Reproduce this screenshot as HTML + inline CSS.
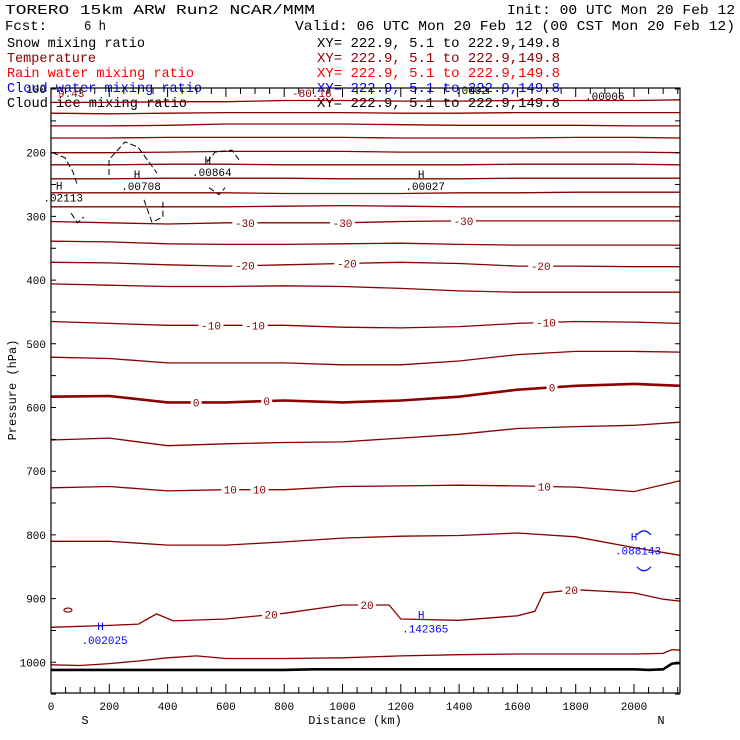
<!DOCTYPE html>
<html><head><meta charset="utf-8"><style>
html,body{margin:0;padding:0;background:#fff;}
svg{display:block;font-family:"Liberation Mono","DejaVu Sans Mono",monospace;}
</style></head><body>
<svg id="chart" width="740" height="740" viewBox="0 0 740 740" xmlns="http://www.w3.org/2000/svg">
<g font-size="14">
<text x="5" y="14" textLength="310" lengthAdjust="spacingAndGlyphs">TORERO  15km ARW   Run2    NCAR/MMM</text>
<text x="507" y="14" textLength="228" lengthAdjust="spacingAndGlyphs">Init: 00 UTC Mon 20 Feb 12</text>
<text x="5" y="30" textLength="42" lengthAdjust="spacingAndGlyphs">Fcst:</text>
<text x="84" y="30" textLength="22" lengthAdjust="spacingAndGlyphs">6 h</text>
<text x="295" y="30" textLength="440" lengthAdjust="spacingAndGlyphs">Valid: 06 UTC Mon 20 Feb 12 (00 CST Mon 20 Feb 12)</text>
<text x="7" y="47" textLength="138" lengthAdjust="spacingAndGlyphs" fill="#000">Snow mixing ratio</text>
<text x="317" y="47" textLength="243" lengthAdjust="spacingAndGlyphs" fill="#000">XY= 222.9,  5.1 to 222.9,149.8</text>
<text x="7" y="62" textLength="89" lengthAdjust="spacingAndGlyphs" fill="#8b0000">Temperature</text>
<text x="317" y="62" textLength="243" lengthAdjust="spacingAndGlyphs" fill="#8b0000">XY= 222.9,  5.1 to 222.9,149.8</text>
<text x="7" y="77" textLength="187" lengthAdjust="spacingAndGlyphs" fill="#ff0000">Rain water mixing ratio</text>
<text x="317" y="77" textLength="243" lengthAdjust="spacingAndGlyphs" fill="#ff0000">XY= 222.9,  5.1 to 222.9,149.8</text>
<text x="7" y="92" textLength="195" lengthAdjust="spacingAndGlyphs" fill="#0000ff">Cloud water mixing ratio</text>
<text x="317" y="92" textLength="243" lengthAdjust="spacingAndGlyphs" fill="#0000ff">XY= 222.9,  5.1 to 222.9,149.8</text>
<text x="7" y="107" textLength="180" lengthAdjust="spacingAndGlyphs" fill="#000">Cloud ice mixing ratio</text>
<text x="317" y="107" textLength="243" lengthAdjust="spacingAndGlyphs" fill="#000">XY= 222.9,  5.1 to 222.9,149.8</text>
</g>
<g id="plot"></g>
<text x="16" y="390" font-size="12" text-anchor="middle" transform="rotate(-90 16 390)">Pressure (hPa)</text>
<text x="355" y="724" font-size="12" text-anchor="middle">Distance (km)</text>
<text x="85" y="724" font-size="12" text-anchor="middle">S</text>
<text x="661" y="724" font-size="12" text-anchor="middle">N</text>
</svg>
<script>
// ---- data ----
const dist = [0,200,400,600,800,1000,1200,1400,1600,1800,2000,2158];
const levels = ["t1","t2","t3","t4","t5","t6","t7","t8","t9","m30","t11","m20","t13","m10","t15","zero","t17","p10","t19"];
const t1  = [121,121,120,120,118,118,119,119,118,118,118,117];
const t2  = [138,139,138,137,137,137,138,138,137,137,137,137];
const t3  = [158,158,157,155,155,155,156,157,157,157,158,158];
const t4  = [177,177,176,176,176,176,177,177,177,176,176,177];
const t5  = [200,200,199,198,198,198,199,199,199,199,199,200];
const t6  = [219,219,218,218,219,219,219,219,218,218,218,219];
const t7  = [241,241,240,240,240,241,241,241,240,240,240,240];
const t8  = [263,263,263,263,264,264,264,263,263,262,262,262];
const t9  = [285,285,285,285,284,283,284,285,285,285,285,285];
const m30 = [308,310,312,310,310,310,308,307,307,307,307,307];
const t11 = [339,340,343,344,344,343,342,344,345,345,345,345];
const m20 = [372,373,376,378,376,374,372,374,378,378,379,379];
const t13 = [406,408,410,410,409,410,413,417,419,419,419,419];
const m10 = [465,468,471,471,471,474,475,473,468,465,466,468];
const t15 = [521,523,530,530,530,533,533,527,517,512,512,513];
const zero = [583,582,592,592,589,592,589,583,572,566,563,566];
const t17 = [651,648,660,657,655,654,648,642,633,630,628,623];
const p10 = [726,724,731,729,729,724,723,722,723,725,732,715];
const t19 = [810,810,816,816,811,805,802,801,797,803,820,832];
const t21Dist = [0,100,200,300,400,500,600,800,1000,1200,1400,1600,1800,2000,2100,2130,2158];
const t21 = [1004,1005,1002,998,993,990,994,994,993,990,988,987,987,987,986,980,981];
const groundDist = [0,800,900,1200,1600,2000,2050,2100,2130,2158];
const ground = [1012,1012,1011,1011,1011,1011,1012,1011,1002,1001];
const p20Dist = [0,200,300,362,420,600,800,1000,1160,1200,1400,1600,1660,1690,1800,2000,2100,2158];
const p20 = [945,942,940,924,935,932,923,910,910,932,934,927,920,891,886,891,901,904];
// contour labels: [series, text, distance]
const labelSeries = ["m30","m30","m30","m20","m20","m20","m10","m10","m10","zero","zero","zero","p10","p10","p10","p20","p20","p20"];
const labelText = ["-30","-30","-30","-20","-20","-20","-10","-10","-10","0","0","0","10","10","10","20","20","20"];
const labelDist = [665,1000,1415,665,1015,1680,549,700,1698,498,740,1719,615,715,1692,755,1084,1785];
// snow mixing ratio contours (distance, pressure)
const snowD = [[5,48,75,91],[69,91,113],[199,199,254,298,364],[319,346,384,384],[535,563,621,645],[542,576,597]];
const snowP = [[200,208,230,251],[295,310,301],[235,211,183,191,232],[274,309,301,277],[215,199,196,211],[255,266,255]];
const snowMaxD = [28,295,538,1270];
const snowMaxP = [258,240,218,240];
const snowMaxV = [".02113",".00708",".00864",".00027"];
const cwMaxD = [170,1270,2000];
const cwMaxP = [949,931,809];
const cwMaxV = [".002025",".142365",".088143"];
const yTicks = [100,200,300,400,500,600,700,800,900,1000];
const xTicks = [0,200,400,600,800,1000,1200,1400,1600,1800,2000];

// ---- axes ----
const X0=51, X1=680, Y0=88, Y1=693;
const xs = d => X0 + d*0.2915;
const ys = p => 89 + (p-100)*0.637;
const NS="http://www.w3.org/2000/svg";
const plot=document.getElementById('plot');
function mk(tag, attrs, parent){const e=document.createElementNS(NS,tag);for(const k in attrs)e.setAttribute(k,attrs[k]);(parent||plot).appendChild(e);return e;}
function interp(ds,ps,d){for(let i=0;i<ds.length-1;i++){if(d>=ds[i]&&d<=ds[i+1]){const t=(d-ds[i])/(ds[i+1]-ds[i]);return ps[i]+t*(ps[i+1]-ps[i]);}}return ps[ps.length-1];}
function pathOf(ds,ps){return ds.map((d,i)=>(i?'L':'M')+xs(d).toFixed(1)+','+ys(ps[i]).toFixed(1)).join(' ');}
const series={t1,t2,t3,t4,t5,t6,t7,t8,t9,m30,t11,m20,t13,m10,t15,zero,t17,p10,t19};

levels.forEach(k=>{
  const el=mk('path',{d:pathOf(dist,series[k]),fill:'none',stroke:'#8b0000','stroke-width':k==='zero'?2.6:1.3});
  
  
});
const e21=mk('path',{d:pathOf(t21Dist,t21),fill:'none',stroke:'#8b0000','stroke-width':1.3});


const e20=mk('path',{d:pathOf(p20Dist,p20),fill:'none',stroke:'#8b0000','stroke-width':1.3});


const eg=mk('path',{d:pathOf(groundDist,ground),fill:'none',stroke:'#000','stroke-width':2.6});


const el0=mk('ellipse',{cx:xs(58),cy:ys(918),rx:4,ry:2,fill:'none',stroke:'#8b0000','stroke-width':1.2});



labelSeries.forEach((k,i)=>{
  const d=labelDist[i];
  const p = k==='p20'?interp(p20Dist,p20,d):interp(dist,series[k],d);
  const w=labelText[i].length*7+4;
  const r=mk('rect',{x:xs(d)-w/2,y:ys(p)-6,width:w,height:12,fill:'#fff'});
  
  
  const t=mk('text',{x:xs(d),y:ys(p)+4,'font-size':11,'text-anchor':'middle',fill:'#8b0000'});
  t.textContent=labelText[i];
  
  
});

snowD.forEach((ds,i)=>{
  const el=mk('path',{d:pathOf(ds,snowP[i]),fill:'none',stroke:'#000','stroke-width':1,'stroke-dasharray':'6,3'});
  
  
});
snowMaxD.forEach((d,i)=>{
  const h=mk('text',{x:xs(d),y:ys(snowMaxP[i]),'font-size':11,'text-anchor':'middle'});h.textContent='H';
  
  
  const v=mk('text',{x:xs(d)+4,y:ys(snowMaxP[i])+12,'font-size':11,'text-anchor':'middle'});v.textContent=snowMaxV[i];
  
  
});
cwMaxD.forEach((d,i)=>{
  const h=mk('text',{x:xs(d),y:ys(cwMaxP[i]),'font-size':11,'text-anchor':'middle',fill:'#0000ff'});h.textContent='H';
  
  
  const v=mk('text',{x:xs(d)+4,y:ys(cwMaxP[i])+14,'font-size':11,'text-anchor':'middle',fill:'#0000ff'});v.textContent=cwMaxV[i];
  
  
});
const cw=mk('path',{d:'M'+(xs(2010)).toFixed(1)+','+(ys(800))+' q7,-8 14,0 M'+xs(2010).toFixed(1)+','+(ys(850))+' q7,8 14,0',fill:'none',stroke:'#0000ff','stroke-width':1.2});



// top clutter labels
[["9.43",58,97,'#8b0000'],["-80.16",292,97,'#8b0000'],[".0002",455,94,'#000'],[".00006",585,100,'#000']].forEach(a=>{
  const t=mk('text',{x:a[1],y:a[2],'font-size':11,fill:a[3]});t.textContent=a[0];
  
  
});

// frame
const fr=mk('rect',{x:X0,y:Y0,width:X1-X0,height:Y1-Y0,fill:'none',stroke:'#000','stroke-width':1.2});


for(let p=100;p<=1050;p+=50){
  const y=ys(p);
  const tk=mk('path',{d:`M${X0},${y}h5M${X1},${y}h-5`,stroke:'#000','stroke-width':1});
  
  
}
yTicks.forEach(p=>{
  const t=mk('text',{x:X0-5,y:ys(p)+4,'font-size':11,'text-anchor':'end'});t.textContent=p;
  
  
});
for(let d=0;d<=2150;d+=50){
  const x=xs(d), L=(d%200===0)?9:6;
  const tk=mk('path',{d:`M${x},${Y1}v-${L}M${x},${Y0}v${L}`,stroke:'#000','stroke-width':1});
  
  
}
xTicks.forEach(d=>{
  const t=mk('text',{x:xs(d),y:710,'font-size':11,'text-anchor':'middle'});t.textContent=d;
  
  
});
</script>
</body></html>
